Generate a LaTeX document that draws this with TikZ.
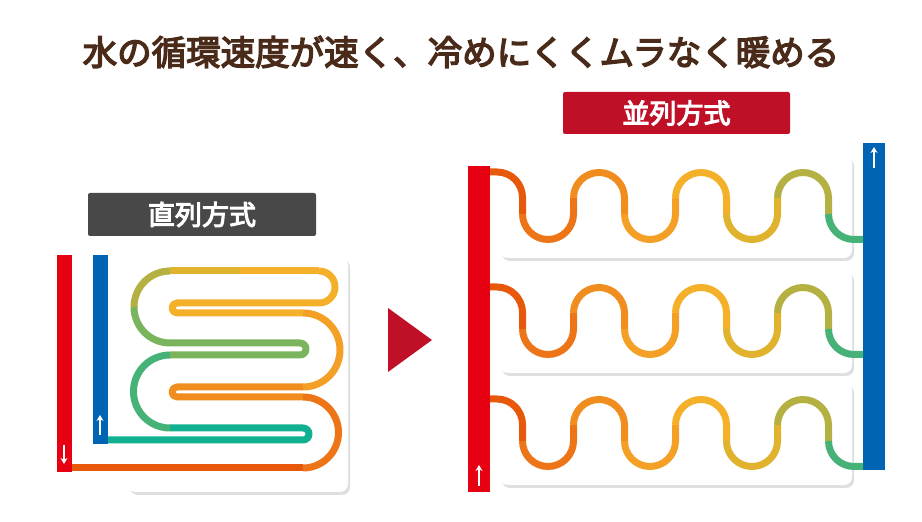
\documentclass[tikz,border=0pt]{standalone}
\usepackage{fontspec}
\newfontfamily\jpfont[FakeBold=4]{Noto Sans CJK JP}
\usepackage{tikz}
\usetikzlibrary{
  arrows.meta,
  positioning,
  shadows,
}
\definecolor{titlebrown}{RGB}{74, 42, 24}
\definecolor{hotred}{RGB}{230, 0, 18}
\definecolor{coldblue}{RGB}{0, 100, 180}
\definecolor{labelgray}{RGB}{72, 72, 72}
\definecolor{labelred}{RGB}{192, 16, 40}
\definecolor{p1}{RGB}{232, 88, 10}
\definecolor{p2}{RGB}{238, 116, 24}
\definecolor{p3}{RGB}{241, 140, 30}
\definecolor{p4}{RGB}{244, 160, 38}
\definecolor{p5}{RGB}{245, 176, 42}
\definecolor{p6}{RGB}{225, 178, 46}
\definecolor{p7}{RGB}{180, 176, 66}
\definecolor{p8}{RGB}{122, 180, 92}
\definecolor{p9}{RGB}{70, 178, 120}
\definecolor{p10}{RGB}{16, 176, 144}
\tikzstyle{card} = [
  fill=white,
  rounded corners=8pt,
  drop shadow={shadow xshift=2pt,shadow yshift=-3pt,opacity=0.25},
]
\tikzstyle{pipe} = [line width=7pt, line cap=butt, line join=round]
\tikzstyle{flow} = [-{Stealth[length=6pt,width=7pt]}, white, line width=2pt]
\tikzstyle{tag} = [text=white, font=\jpfont\fontsize{27}{32}\selectfont]

\begin{document}
\begin{tikzpicture}[x=1pt,y=1pt]
  \useasboundingbox (0,0) rectangle (922,522);
  \node[text=titlebrown,font=\jpfont\fontsize{34.5}{40}\selectfont] (title) at (461,470) {水の循環速度が速く、冷めにくくムラなく暖める};

  % series
  \node[fill=labelgray,minimum width=228,minimum height=43,inner sep=0,rounded corners=2pt,tag] (serlabel) at (202,307.5) {直列方式};
  \path[card] (128,30) rectangle (348,266);
  \fill[hotred] (57,50) rectangle (72,267);
  \fill[coldblue] (93,78) rectangle (108,267);
  \coordinate (serin) at (72,54);
  \coordinate (serout) at (108,82);
  \draw[pipe,p1] (serin) -- (303,54);
  \draw[pipe,p2] (303,54) arc (-90:90:35.5);
  \draw[pipe,p3] (303,125) -- (177,125) arc (270:90:5) -- (303,135);
  \draw[pipe,p4] (303,135) arc (-90:90:37);
  \draw[pipe,p5] (303,209) -- (177,209) arc (270:90:5) -- (319,219) arc (-90:90:16);
  \draw[pipe,p5] (319,251) -- (240,251);
  \draw[pipe,p6] (240,251) -- (170,251);
  \draw[pipe,p7] (170,251) arc (90:180:36);
  \draw[pipe,p8] (134,215) arc (180:270:36) -- (300,179) arc (90:-90:6) -- (170,167);
  \draw[pipe,p9] (170,167) arc (90:270:36.5);
  \draw[pipe,p10] (170,94) -- (303,94) arc (90:-90:6) -- (serout);
  \draw[flow] (64,77) -- (64,58);
  \draw[flow] (100,87) -- (100,107);

  % arrow
  \fill[labelred] (388,214) -- (432,182) -- (388,150) -- cycle;

  % parallel
  \node[fill=labelred,minimum width=227,minimum height=42,inner sep=0,rounded corners=2pt,tag] (parlabel) at (676.5,409) {並列方式};
  \foreach \dy in {0,115,227} {
    \path[card] (500,367-\dy) rectangle (852,264-\dy);
  }
  \fill[hotred] (468,30) rectangle (490,356);
  \fill[coldblue] (863,52) rectangle (885,379);
  \foreach \dy in {0,115,227} {
    \begin{scope}[yshift=-\dy]
      \draw[pipe,p1] (490,350) -- (497,350) arc (90:0:25.5) -- (522.5,308);
      \draw[pipe,p2] (522.5,308) arc (180:360:25.5) -- (573.5,324);
      \draw[pipe,p3] (573.5,324) arc (180:0:25.5) -- (624.5,308);
      \draw[pipe,p4] (624.5,308) arc (180:360:25.5) -- (675.5,324);
      \draw[pipe,p5] (675.5,324) arc (180:0:25.5) -- (726.5,308);
      \draw[pipe,p6] (726.5,308) arc (180:360:25.5) -- (777.5,324);
      \draw[pipe,p7] (777.5,324) arc (180:0:25.5) -- (828.5,308);
      \draw[pipe,p9] (828.5,308) arc (180:270:25.5) -- (863,282.5);
    \end{scope}
  }
  \draw[flow] (874,354) -- (874,375);
  \draw[flow] (479,36) -- (479,57);
\end{tikzpicture}
\end{document}
